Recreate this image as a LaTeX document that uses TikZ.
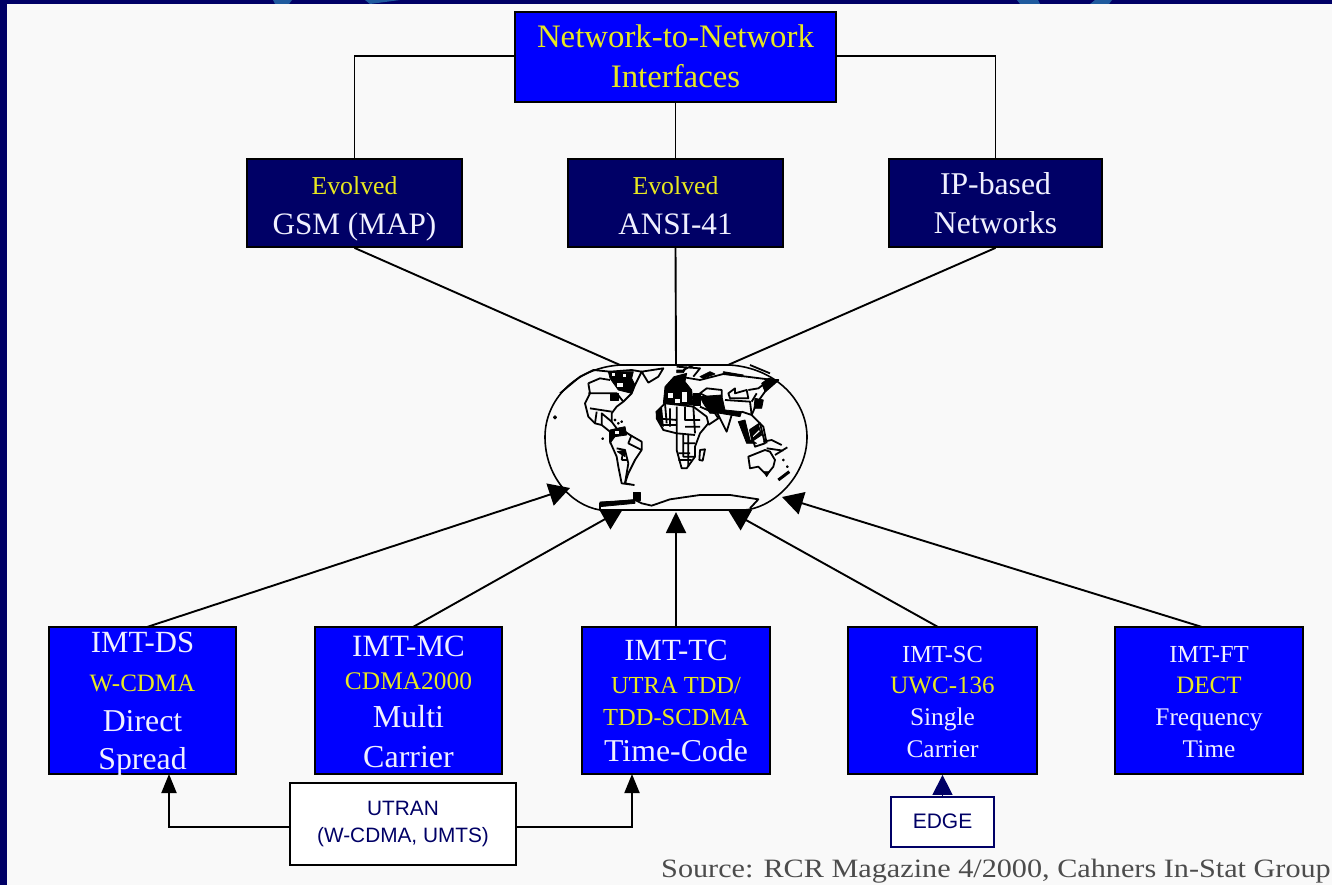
\documentclass[tikz,border=0pt]{standalone}
\usepackage{fontspec}
\setmainfont{Liberation Serif}
\newfontfamily\arialf{Liberation Sans}
\usetikzlibrary{arrows.meta}
\definecolor{navy}{HTML}{000066}
\definecolor{pure}{HTML}{0000FF}
\definecolor{paper}{HTML}{F9F9F9}
\definecolor{wave}{HTML}{1F5A9E}
\definecolor{soft}{HTML}{F0F0FF}
\definecolor{ylw}{HTML}{E8E820}
\newcommand{\fs}[1]{\fontsize{#1}{39}\selectfont}
% a line of text: #1 distance from the previous baseline, #2 font size, #3 text
\newcommand{\tl}[3]{\hbox to 0pt{\hss\raisebox{0pt}[#1pt][0pt]{\fs{#2}#3}\hss}}
% a stack of such lines in a box #1 high
\newcommand{\stk}[2]{\vbox to #1pt{\offinterlineskip #2\vss}}
\tikzset{
  bluebox/.style={draw=black,line width=1.8pt,fill=pure,text=soft,inner sep=0pt},
  darkbox/.style={draw=black,line width=1.8pt,fill=navy,text=soft,inner sep=0pt},
  whitebox/.style={draw=black,line width=1.5pt,fill=white,text=navy,inner sep=0pt,font=\arialf},
  link/.style={draw=black,line width=1.9pt},
  arrowlink/.style={link,-{Triangle[length=21pt,width=23pt]}},
  smallarrow/.style={link,-{Triangle[length=19pt,width=15pt]}},
  maplin/.style={draw=black,line width=1.8pt,line join=round},
  mapfill/.style={fill=black,draw=black,line width=.8pt,line join=round},
}
\begin{document}
\begin{tikzpicture}[x=1pt,y=-1pt]
\useasboundingbox (0,0) rectangle (1332,885);
\fill[navy] (0,0) rectangle (1332,885);
\fill[wave] (273,0) -- (292,0) -- (289,4) -- (275,4) -- cycle;
\fill[wave] (370,4) -- (400,0) -- (365,0) -- cycle;
\fill[wave] (1017,0) -- (1038,0) -- (1040,4) -- (1020,4) -- cycle;
\fill[wave] (1095,0) -- (1112,0) -- (1109,4) -- (1090,4) -- cycle;
\fill[paper] (7,4) rectangle (1332,885);

% boxes
\node[bluebox,text=ylw,minimum width=321pt,minimum height=90pt] (nni) at (675.5,57) {\stk{90}{\tl{36}{32.8}{Network-to-Network}\tl{40}{32.8}{Interfaces}}};
\node[darkbox,minimum width=215pt,minimum height=88pt] (gsm) at (354.5,203) {\stk{88}{\tl{36}{25.8}{\color{ylw}Evolved}\tl{40}{31.2}{GSM (MAP)}}};
\node[darkbox,minimum width=215pt,minimum height=88pt] (ansi) at (675.5,203) {\stk{88}{\tl{36}{25.8}{\color{ylw}Evolved}\tl{40}{31.2}{ANSI-41}}};
\node[darkbox,minimum width=213pt,minimum height=88pt] (ip) at (995.5,203) {\stk{88}{\tl{36}{31.7}{IP-based}\tl{39}{31.7}{Networks}}};
\node[bluebox,minimum width=187pt,minimum height=147pt] (ds) at (142.5,700.5) {\stk{147}{\tl{25}{30.8}{IMT-DS}\tl{39}{25}{\color{ylw}W-CDMA}\tl{40}{31.8}{Direct}\tl{38}{31.8}{Spread}}};
\node[bluebox,minimum width=187pt,minimum height=147pt] (mc) at (408.5,700.5) {\stk{147}{\tl{29}{31}{IMT-MC}\tl{33}{25.4}{\color{ylw}CDMA2000}\tl{38}{32}{Multi}\tl{40}{32}{Carrier}}};
\node[bluebox,minimum width=188pt,minimum height=147pt] (tc) at (676,700.5) {\stk{147}{\tl{33}{30.8}{IMT-TC}\tl{33}{24.5}{\color{ylw}UTRA TDD/}\tl{32}{24.5}{\color{ylw}TDD-SCDMA}\tl{36}{31.8}{Time-Code}}};
\node[bluebox,minimum width=189pt,minimum height=147pt] (sc) at (942.5,700.5) {\stk{147}{\tl{35}{24.5}{IMT-SC}\tl{31}{25}{\color{ylw}UWC-136}\tl{32}{25.4}{Single}\tl{32}{25.4}{Carrier}}};
\node[bluebox,minimum width=188pt,minimum height=147pt] (ft) at (1209,700.5) {\stk{147}{\tl{35}{24.5}{IMT-FT}\tl{31}{25}{\color{ylw}DECT}\tl{32}{25.4}{Frequency}\tl{32}{25.4}{Time}}};
\node[whitebox,minimum width=226pt,minimum height=82pt] (utran) at (403,824) {\stk{82}{\tl{32}{20.8}{UTRAN}\tl{27}{20.8}{(W-CDMA, UMTS)}}};
\node[whitebox,draw=navy,minimum width=103pt,minimum height=50pt] (edge) at (942.5,822) {\stk{50}{\tl{31}{21}{EDGE}}};
\node[anchor=base east,inner sep=0pt,text=black!70,font=\fontsize{26.5}{30}\selectfont,xscale=1.14] (src) at (1331,877) {Source: RCR Magazine 4/2000, Cahners In-Stat Group};

% world map outline
\draw[draw=black,line width=1.6pt] (620,365) -- (730,365) .. controls (775,368) and (807,400) .. (807,437) .. controls (807,475) and (775,507) .. (745,510) -- (600,510) .. controls (570,505) and (545,475) .. (545,437) .. controls (545,400) and (575,368) .. (620,365) -- cycle;
% named ends on the map
\coordinate (mTopL) at (620,365);
\coordinate (mTop) at (676,365);
\coordinate (mTopR) at (728,365);
\coordinate (h1) at (570,488);
\coordinate (h2) at (623,509);
\coordinate (h3) at (676,512);
\coordinate (h4) at (728,510);
\coordinate (h5) at (782,497);

% Americas (zoom-5 frame)
\begin{scope}[shift={(560,360)},x=0.3333pt,y=-0.3333pt]
\draw[maplin] (0,100) -- (30,75) -- (60,50) -- (100,30) -- (150,35) -- (215,30) -- (245,35) -- (225,75) -- (215,100) -- (190,125) -- (170,140) -- (155,160) -- (155,185) -- (170,205);
\draw[maplin] (85,70) -- (90,100) -- (75,130) -- (85,170) -- (105,190) -- (125,195) -- (150,215);
\draw[maplin] (85,100) -- (170,100) -- (190,125);
\draw[maplin] (90,145) -- (155,155) (105,190) -- (110,155) (125,195) -- (125,160) -- (155,185) (85,70) -- (120,55) -- (150,60);
\draw[maplin] (150,215) -- (180,205) -- (210,225) -- (245,245) -- (245,270) -- (225,300) -- (205,340) -- (195,370) -- (222,375) -- (185,370) -- (175,320) -- (170,290) -- (150,245) -- cycle;
\draw[maplin] (170,265) -- (195,270) -- (205,310) -- (195,370) (215,225) -- (205,250) -- (245,270) (185,300) -- (205,300) (190,270) -- (185,300);
\draw[maplin] (245,35) -- (310,25) -- (295,50) -- (265,68) -- cycle;
\fill[mapfill] (145,35) -- (220,35) -- (215,55) -- (225,75) -- (215,100) -- (175,90) -- (150,55) -- cycle;
\fill[paper] (170,68) rectangle (190,82);
\fill[paper] (155,40) rectangle (165,48);
\fill[paper] (190,42) rectangle (198,50);
\fill[mapfill] (150,100) rectangle (175,120);
\fill[mapfill] (150,210) -- (195,200) -- (200,225) -- (165,230) -- (150,250) -- cycle;
\fill[paper] (165,212) rectangle (178,222);
\fill[mapfill] (165,180) circle (3);
\fill[mapfill] (175,190) circle (3);
\fill[mapfill] (185,185) circle (3);
\fill[mapfill] (128,236) circle (3);
\fill[mapfill] (172,275) -- (195,270) -- (195,290) -- cycle;
\end{scope}

% Old world (zoom-6 frame)
\begin{scope}[shift={(650,360)},x=0.3333pt,y=-0.3333pt]
\fill[mapfill] (72,50) -- (110,40) -- (105,65) -- (125,90) -- (130,135) -- (40,130) -- (45,80) -- cycle;
\fill[paper] (55,100) rectangle (70,115);
\fill[paper] (95,95) rectangle (110,125);
\fill[paper] (75,118) rectangle (90,128);
\fill[mapfill] (150,110) -- (215,105) -- (225,150) -- (275,155) -- (270,170) -- (210,160) -- (180,160) -- (160,130) -- cycle;
\fill[mapfill] (220,35) -- (280,45) -- (275,50) -- (220,42) -- cycle;
\fill[mapfill] (355,55) -- (385,60) -- (345,95) -- (335,70) -- cycle;
\fill[mapfill] (315,115) -- (340,120) -- (335,145) -- (312,145) -- cycle;
\fill[mapfill] (80,30) -- (105,30) -- (100,38) -- (80,38) -- cycle;
\fill[mapfill] (180,35) -- (195,42) -- (160,55) -- (150,50) -- cycle;
\fill[mapfill] (265,185) -- (285,180) -- (300,240) -- (320,250) -- (290,250) -- cycle;
\fill[mapfill] (130,100) -- (150,100) -- (150,135) -- (130,135) -- cycle;
\fill[mapfill] (18,155) -- (35,145) -- (40,200) -- (22,178) -- cycle;
\fill[mapfill] (300,215) -- (325,195) -- (335,225) -- (305,245) -- cycle;
\draw[paper,line width=1.4pt] (308,232) -- (328,212);
\draw[maplin] (50,80) -- (90,50) -- (150,60) -- (220,42) -- (290,50) -- (370,60) -- (385,60) -- (345,95) -- (320,130) -- (305,165) -- (340,200) -- (350,250);
\draw[maplin] (150,100) -- (170,85) -- (215,90) -- (215,110) -- (170,110) -- cycle;
\draw[maplin] (235,100) -- (255,85) -- (255,100) -- (290,90) -- (295,115) -- (240,115) -- cycle;
\draw[maplin] (225,120) -- (300,125) -- (305,165) -- (275,155);
\draw[maplin] (295,90) -- (325,85) -- (345,70) (305,125) -- (320,100);
\draw[maplin] (80,20) -- (150,25) -- (130,50) (100,30) -- (130,15) (300,15) -- (360,40);
% Africa
\draw[maplin] (20,155) -- (45,130) -- (90,135) -- (130,140) -- (170,170) -- (175,190) -- (150,220) -- (135,260) -- (135,290) -- (110,325) -- (95,325) -- (80,270) -- (80,220) -- (40,210) -- (20,175) -- cycle;
\draw[maplin] (45,130) -- (50,190) (80,140) -- (80,220) (105,140) -- (105,180) -- (150,180) (130,140) -- (135,220) (20,175) -- (80,180) (80,220) -- (135,225) (100,220) -- (100,290) -- (135,290) (85,280) -- (120,280) (115,225) -- (115,320) (60,145) -- (60,200) (30,195) -- (80,195) (105,200) -- (150,200) (100,250) -- (135,250) (85,300) -- (125,300);
\draw[maplin] (150,270) -- (165,268) -- (158,302) -- (148,300) -- cycle;
% Arabia, India, SE Asia
\draw[maplin] (150,140) -- (195,160) -- (205,175) -- (175,195);
\draw[maplin] (200,155) -- (230,215) -- (245,165);
\draw[maplin] (300,210) -- (330,190) -- (345,250) -- (315,260) -- cycle;
\draw[maplin] (310,235) -- (335,215) (340,245) -- (365,240) -- (395,255) (350,265) -- (400,272) (375,285) -- (412,262);
% Australia
\draw[maplin] (295,290) -- (345,270) -- (360,275) -- (375,300) -- (370,320) -- (350,345) -- (325,320) -- (300,325) -- cycle;
\fill[mapfill] (342,335) -- (358,335) -- (350,350) -- cycle;
% New Zealand and islands
\draw[draw=black,line width=3pt] (385,360) -- (418,335);
\fill[mapfill] (400,300) circle (3);
\fill[mapfill] (412,320) circle (3);
\end{scope}

% Antarctica (zoom-1 frame)
\begin{scope}[shift={(520,340)},x=0.3333pt,y=-0.3333pt]
\draw[maplin] (240,510) -- (240,490) -- (345,480) -- (365,490) -- (395,497) -- (450,478) -- (540,465) -- (630,465) -- (715,478) -- (690,505);
\fill[mapfill] (240,486) -- (345,480) -- (345,490) -- (240,500) -- cycle;
\fill[mapfill] (340,458) -- (362,458) -- (362,480) -- (340,480) -- cycle;
\fill[mapfill] (105,232) circle (5);
\end{scope}

% connectors
\coordinate (nniL) at (nni.west |- 0,56);
\coordinate (nniR) at (nni.east |- 0,56);
\coordinate (dsUp) at (147,627);
\coordinate (mcUp) at (413,627);
\coordinate (scUp) at (938,627);
\coordinate (ftUp) at (1202,627);
\draw[link] (nniL) -| (gsm.north);
\draw[link] (nniR) -| (ip.north);
\draw[link] (nni) -- (ansi);
\draw[link] (gsm.south) -- (mTopL);
\draw[link] (ansi.south) -- (mTop);
\draw[link] (ip.south) -- (mTopR);
\draw[arrowlink] (dsUp) -- (h1);
\draw[arrowlink] (mcUp) -- (h2);
\draw[link,-{Triangle[length=21pt,width=20pt]}] (tc.north) -- (h3);
\draw[arrowlink] (scUp) -- (h4);
\draw[arrowlink] (ftUp) -- (h5);
\coordinate (dsIn) at (169,774);
\coordinate (tcIn) at (632,774);
\coordinate (utranL) at (utran.west |- 0,827);
\coordinate (utranR) at (utran.east |- 0,827);
\draw[smallarrow] (utranL) -| (dsIn);
\draw[smallarrow] (utranR) -| (tcIn);
\draw[draw=navy,line width=1.5pt,-{Triangle[length=20pt,width=20pt]}] (edge.north) -- (sc.south);
\end{tikzpicture}
\end{document}
